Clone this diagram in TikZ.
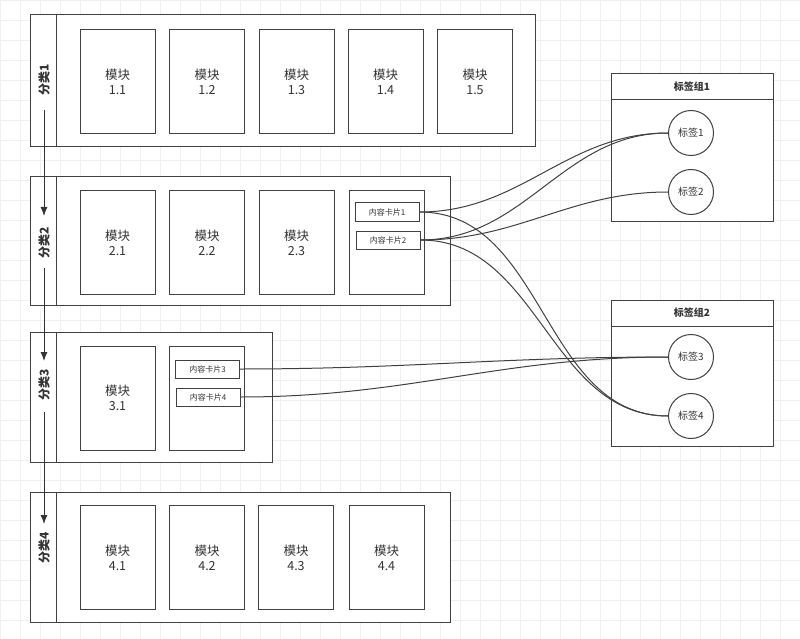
\documentclass[tikz,border=0pt]{standalone}
\usepackage{fontspec}
\setmainfont{Noto Sans CJK SC}
\usetikzlibrary{positioning,arrows.meta}

\tikzset{
  box/.style={draw=black!75,line width=1pt,fill=white},
  module/.style={box,minimum width=75pt,minimum height=104pt,align=center,font=\fontsize{12.5}{15}\selectfont,text=black!80},
  card/.style={box,minimum width=64pt,minimum height=18pt,inner sep=0pt,font=\fontsize{8}{9}\selectfont,text=black!80},
  tag/.style={box,circle,minimum size=45pt,inner sep=0pt,font=\fontsize{10}{12}\selectfont,text=black!80},
  catlabel/.style={rotate=90,font=\fontsize{12}{14}\selectfont\bfseries,text=black!80},
  flow/.style={-{Latex[length=9pt,width=7pt]},draw=black!80,line width=1pt},
  link/.style={draw=black!75,line width=1pt,out=0,in=180},
}

\begin{document}
\begin{tikzpicture}[x=1pt,y=-1pt]
  \useasboundingbox (0,0) rectangle (800,639);
  % background grid
  \foreach \g in {0,20,...,800} \draw[black!6,line width=0.6pt] (\g,0) -- (\g,639);
  \foreach \g in {0,20,...,639} \draw[black!6,line width=0.6pt] (0,\g) -- (800,\g);

  % categories
  \draw[box] (30,15) rectangle (535,147);  \draw[box] (56,15) -- (56,147);
  \draw[box] (30,177) rectangle (450,305); \draw[box] (56,177) -- (56,305);
  \draw[box] (30,332) rectangle (272,462); \draw[box] (56,332) -- (56,462);
  \draw[box] (30,492) rectangle (450,622); \draw[box] (56,492) -- (56,622);
  \node[catlabel] (c1) at (44,80) {分类1};
  \node[catlabel] (c2) at (44,243) {分类2};
  \node[catlabel] (c3) at (44,385) {分类3};
  \node[catlabel] (c4) at (44,548) {分类4};
  \coordinate (a1) at (44,110); \coordinate (b1) at (44,216);
  \coordinate (a2) at (44,268); \coordinate (b2) at (44,361);
  \coordinate (a3) at (44,412); \coordinate (b3) at (44,524);
  \draw[flow] (a1) -- (b1);
  \draw[flow] (a2) -- (b2);
  \draw[flow] (a3) -- (b3);

  % modules
  \foreach \i/\x in {1/117.5,2/207,3/296.5,4/385.5,5/475}
    \node[module] (m1\i) at (\x,81.5) {模块\\1.\i};
  \foreach \i/\x in {1/117.5,2/207,3/296.5}
    \node[module] (m2\i) at (\x,242.5) {模块\\2.\i};
  \node[module] (m31) at (117.5,398) {模块\\3.1};
  \foreach \i/\x in {1/117.5,2/207,3/296,4/386.5}
    \node[module] (m4\i) at (\x,557.5) {模块\\4.\i};

  % card holders
  \node[module] (h2) at (387,242.5) {};
  \node[module] (h3) at (207,398) {};
  \node[card] (k1) at (387,212) {内容卡片1};
  \node[card] (k2) at (388,240) {内容卡片2};
  \node[card] (k3) at (207.5,369) {内容卡片3};
  \node[card] (k4) at (208,397) {内容卡片4};

  % tag groups
  \draw[box] (611,74) rectangle (773,221);  \draw[box] (611,100) -- (773,100);
  \node[font=\fontsize{10}{12}\selectfont\bfseries,text=black!80] (g1) at (692,87) {标签组1};
  \draw[box] (611,300) rectangle (773,446); \draw[box] (611,326) -- (773,326);
  \node[font=\fontsize{10}{12}\selectfont\bfseries,text=black!80] (g2) at (692,313) {标签组2};
  \node[tag] (t1) at (691,133) {标签1};
  \node[tag] (t2) at (691,192) {标签2};
  \node[tag] (t3) at (691,357) {标签3};
  \node[tag] (t4) at (691,416) {标签4};

  % links
  \path[link] (k1.east) to (t1.west);
  \path[link] (k2.east) to (t1.west);
  \path[link] (k2.east) to (t2.west);
  \path[link] (k1.east) to (t4.west);
  \path[link] (k2.east) to (t4.west);
  \path[link] (k3.east) to (t3.west);
  \path[link] (k4.east) to (t3.west);
\end{tikzpicture}
\end{document}
